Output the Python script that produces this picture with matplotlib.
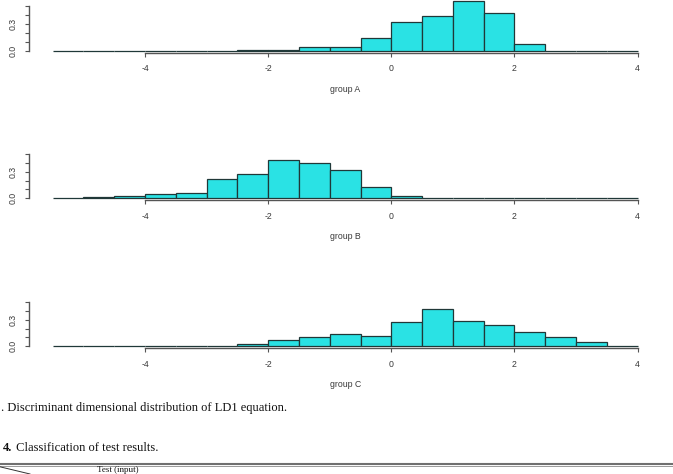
import numpy as np
import matplotlib
matplotlib.use('Agg')
import matplotlib.pyplot as plt
from matplotlib.lines import Line2D
from matplotlib.text import Annotation

# ---------------- data ----------------
bin_edges = [-5.5, -5.0, -4.5, -4.0, -3.5, -3.0, -2.5, -2.0, -1.5, -1.0,
             -0.5, 0.0, 0.5, 1.0, 1.5, 2.0, 2.5, 3.0, 3.5, 4.0]
group_names = ['group A', 'group B', 'group C']
density_A = [0, 0, 0, 0, 0, 0, 0.004, 0.004, 0.036, 0.036,
             0.139, 0.326, 0.393, 0.56, 0.427, 0.075, 0, 0, 0]
density_B = [0.009, 0.018, 0.024, 0.044, 0.06, 0.22, 0.27, 0.435, 0.40, 0.323,
             0.13, 0.027, 0, 0, 0, 0, 0, 0, 0]
density_C = [0, 0, 0, 0, 0, 0, 0.023, 0.065, 0.108, 0.135,
             0.12, 0.27, 0.42, 0.285, 0.242, 0.158, 0.10, 0.046, 0]
x_ticks = [-4, -2, 0, 2, 4]
x_tick_labels = ['-4', '-2', '0', '2', '4']
y_ticks = [0.0, 0.1, 0.2, 0.3, 0.4, 0.5]
y_tick_labels = ['0.0', '', '', '0.3', '', '']
caption_fig = '. Discriminant dimensional distribution of LD1 equation.'
table_num = '4.'
table_caption = ' Classification of test results.'
table_header = 'Test (input)'

# ---------------- layout ----------------
W, H, DPI = 673, 474, 100
fig = plt.figure(figsize=(W / DPI, H / DPI), dpi=DPI)
fig.patch.set_facecolor('white')

def fx(px):
    return px / W

def fy(py):
    return 1 - py / H

SANS = ['Liberation Sans', 'DejaVu Sans']
SERIF = ['Liberation Serif', 'DejaVu Serif']
CYAN = '#2ae2e4'
EDGE = '#203838'
AXC = '#555555'
TXT = '#3a3a3a'

XLIM = (-5.88, 4.38)
YLO, YHI = -0.0224, 0.5824
AX_L, AX_R = 29.3, 661.0
# (values, pixel row of zero line, pixels per density unit)
panels = [(density_A, 50.7, 89.0), (density_B, 198.3, 88.7), (density_C, 346.0, 87.2)]

lefts = bin_edges[:-1]
widths = list(np.diff(bin_edges))

for (vals, y0, k), name in zip(panels, group_names):
    bot = y0 - YLO * k
    top = y0 - YHI * k
    ax = fig.add_axes([fx(AX_L), fy(bot), fx(AX_R) - fx(AX_L), (bot - top) / H])
    ax.set_facecolor('none')
    ax.bar(lefts, vals, width=widths, align='edge', color=CYAN,
           edgecolor=EDGE, linewidth=0.9, clip_on=False)
    ax.set_xlim(*XLIM)
    ax.set_ylim(YLO, YHI)
    for s in ('top', 'right'):
        ax.spines[s].set_visible(False)
    ax.spines['left'].set_bounds(0, 0.5)
    ax.spines['bottom'].set_bounds(-4, 4)
    for s in ('left', 'bottom'):
        ax.spines[s].set_color(AXC)
        ax.spines[s].set_linewidth(1.0)
    ax.set_xticks(x_ticks)
    ax.set_xticklabels(x_tick_labels)
    ax.set_yticks(y_ticks)
    ax.set_yticklabels(y_tick_labels)
    ax.tick_params(axis='both', direction='out', length=2.9, width=0.8,
                   color=AXC, labelcolor=TXT, labelsize=6.3, pad=5.5)
    ax.tick_params(axis='y', labelrotation=90)
    for lab in ax.get_yticklabels():
        lab.set_va('center')
    for lab in ax.get_xticklabels() + ax.get_yticklabels():
        lab.set_family(SANS)
    fig.text(fx(345.2), fy(y0 + 38.6), name, ha='center', va='center',
             fontsize=6.3, family=SANS, color=TXT)

# ---------------- captions ----------------
fig.text(fx(1), fy(408), caption_fig, ha='left', va='center',
         fontsize=9, family=SERIF, color='#111111')
t1 = fig.text(fx(3.3), fy(448), table_num, ha='left', va='center',
              fontsize=9, family=SERIF, weight='bold', color='#111111')
t2 = Annotation(table_caption, xy=(1, 0), xycoords=t1, ha='left', va='bottom',
                fontsize=9, family=SERIF, color='#111111')
fig.add_artist(t2)

fig.add_artist(Line2D([0, 1], [fy(463.6), fy(463.6)], transform=fig.transFigure,
                      color='#707070', lw=1.5))
fig.add_artist(Line2D([0, 1], [fy(466.0), fy(466.0)], transform=fig.transFigure,
                      color='#9a9a9a', lw=0.7))
fig.add_artist(Line2D([fx(0), fx(30)], [fy(466.8), fy(474)], transform=fig.transFigure,
                      color='#333333', lw=0.7))
fig.text(fx(97), fy(472.0), table_header, ha='left', va='baseline',
         fontsize=6.5, family=SERIF, color='#111111')

fig.savefig('out.png', dpi=DPI, facecolor='white')
